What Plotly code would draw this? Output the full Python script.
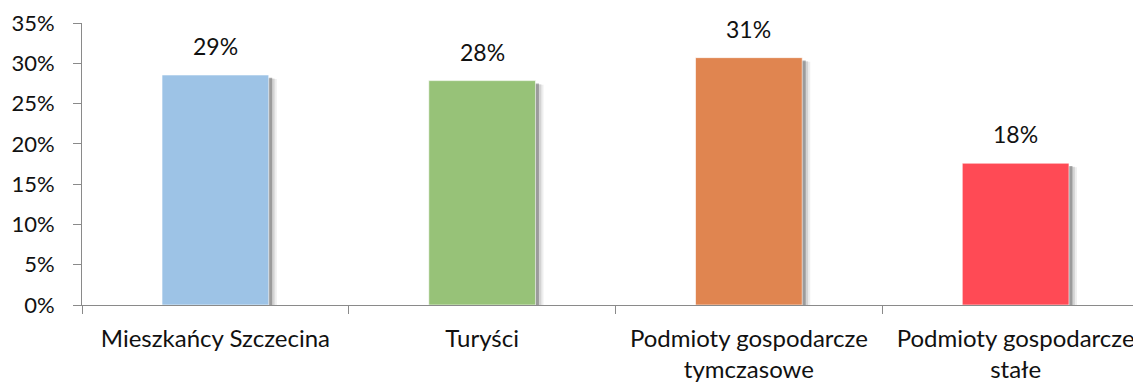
import plotly.graph_objects as go

categories = ["Mieszkańcy Szczecina", "Turyści", "Podmioty gospodarcze<br>tymczasowe", "Podmioty gospodarcze<br>stałe"]
values = [28.55, 27.85, 30.7, 17.6]
value_labels = ["29%", "28%", "31%", "18%"]
colors = ["#9DC3E6", "#97C278", "#E08550", "#FF4A55"]
y_ticks = [0, 5, 10, 15, 20, 25, 30, 35]

FONT = "Lato"
TXT = "#111111"
AX = "#8a8a8a"

fig = go.Figure()

# soft shadows (right/bottom) behind bars
fig.add_trace(go.Bar(x=categories, y=[v - 0.5 for v in values], width=0.4, offset=-0.2 + 0.03,
                     marker=dict(color="rgba(170,170,170,0.2)", line=dict(width=0)),
                     hoverinfo="skip", showlegend=False))
fig.add_trace(go.Bar(x=categories, y=[v - 0.45 for v in values], width=0.4, offset=-0.2 + 0.022,
                     marker=dict(color="rgba(150,150,150,0.3)", line=dict(width=0)),
                     hoverinfo="skip", showlegend=False))
fig.add_trace(go.Bar(x=categories, y=[v - 0.35 for v in values], width=0.4, offset=-0.2 + 0.013,
                     marker=dict(color="rgba(110,110,110,0.55)", line=dict(width=0)),
                     hoverinfo="skip", showlegend=False))
fig.add_trace(go.Bar(x=categories, y=values, width=0.4, offset=-0.2,
                     marker=dict(color=colors, line=dict(color="rgba(255,255,255,0.6)", width=1)),
                     showlegend=False))

for c, v, t in zip(categories, values, value_labels):
    fig.add_annotation(x=c, y=v, text=t, showarrow=False, yanchor="bottom", yshift=13,
                       font=dict(family=FONT, size=23, color=TXT))

# page body has an 8px default margin, so the figure is sized/placed to compensate
fig.update_layout(
    width=1133, height=375,
    margin=dict(l=74, r=0, t=15, b=78),
    plot_bgcolor="white", paper_bgcolor="white",
    barmode="overlay",
    font=dict(family=FONT, size=22, color=TXT),
)
fig.update_xaxes(
    type="category", range=[-0.5, 3.47],
    showline=True, linecolor=AX, linewidth=1,
    ticks="outside", tickson="boundaries", ticklen=8, tickcolor=AX, tickwidth=1,
    showgrid=False, zeroline=False,
    ticklabelstandoff=12,
    tickfont=dict(family=FONT, size=24, color=TXT),
)
fig.update_yaxes(
    range=[0, 35], tickvals=y_ticks, ticktext=[f"{t}%" for t in y_ticks],
    showline=True, linecolor=AX, linewidth=1,
    ticks="outside", ticklen=8, tickcolor=AX, tickwidth=1,
    showgrid=False, zeroline=False,
    ticklabelstandoff=14,
    tickfont=dict(family=FONT, size=22, color=TXT),
)

fig.write_html("out.html")
